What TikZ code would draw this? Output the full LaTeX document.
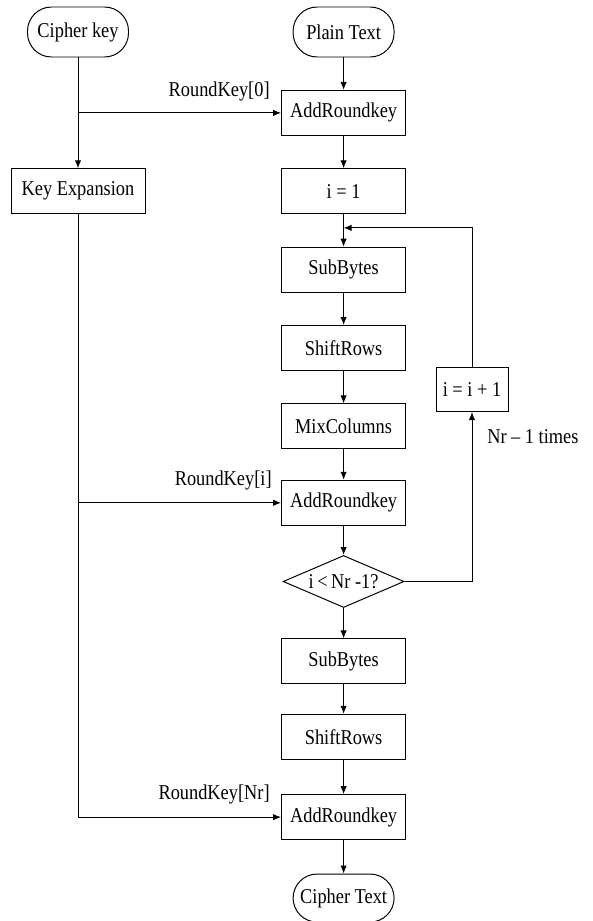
\documentclass[tikz,border=0pt]{standalone}
\usepackage{fontspec}
\setmainfont[FakeStretch=0.87]{Liberation Serif}
\usepackage{tikz}
\usetikzlibrary{arrows.meta,positioning,calc,shapes.geometric}
\tikzset{
  stepbox/.style={rectangle, draw=black, line width=0.7pt, fill=white,
                  minimum width=3.1cm, minimum height=1.125cm, inner sep=2pt,
                  font=\fontsize{15}{17}\selectfont},
  term/.style={rectangle, rounded corners=0.6cm, draw=black, line width=0.7pt,
               minimum width=2.525cm, minimum height=1.25cm, inner sep=2pt,
               font=\fontsize{15}{17}\selectfont},
  decide/.style={diamond, draw=black, line width=0.7pt, inner sep=0pt,
                 minimum width=3.025cm, minimum height=1.3cm,
                 font=\fontsize{15}{17}\selectfont},
  lbl/.style={inner sep=0pt, font=\fontsize{15}{17}\selectfont},
  arr/.style={-{Latex[length=2mm,width=1.6mm]}, line width=0.7pt, draw=black},
}
\begin{document}
\begin{tikzpicture}[node distance=0.81cm]
    \useasboundingbox (0,0) rectangle (14.8,-23.025);
    % left column
    \node[term] (ck) at (1.95,-0.8) {Cipher key};
    % main column
    \node[term] (pt) at (8.59,-0.8) {Plain Text};
    \node[stepbox, below=of pt] (a1) {AddRoundkey};
    \node[stepbox, below=of a1] (i1) {i = 1};
    \node[stepbox, below=of i1] (sb1) {SubBytes};
    \node[stepbox, below=of sb1] (sr1) {ShiftRows};
    \node[stepbox, below=of sr1] (mc) {MixColumns};
    \node[stepbox, below=0.76cm of mc] (a2) {AddRoundkey};
    \node[decide, below=0.73cm of a2] (d1) {\makebox[0pt]{i\,<\,Nr -1?}};
    \node[stepbox, below=0.76cm of d1] (sb2) {SubBytes};
    \node[stepbox, below=0.735cm of sb2] (sr2) {ShiftRows};
    \node[stepbox, below=0.86cm of sr2] (a3) {AddRoundkey};
    \node[term, below=0.835cm of a3, minimum height=1.2cm] (ct) {Cipher Text};
    \node[stepbox, minimum width=3.35cm] (ke) at (ck |- i1) {Key Expansion};
    % loop
    \node[stepbox, minimum width=1.8cm, minimum height=1.1cm] (inc)
      at ($(sr1)!0.53!(mc)+(3.21,0)$) {i = i + 1};
    \node[lbl, anchor=west] (nt) at ($(inc.south)+(0.375,-0.625)$) {Nr -- 1 times};
    % round keys
    \node[lbl, anchor=south east] (k0) at ($(a1.west)+(-0.28,0.3)$) {RoundKey[0]};
    \node[lbl, anchor=south east] (ki) at ($(a2.west)+(-0.23,0.3)$) {RoundKey[i]};
    \node[lbl, anchor=south east] (kn) at ($(a3.west)+(-0.28,0.32)$) {RoundKey[Nr]};
    \coordinate (b0) at (ck |- a1);
    \coordinate (b1) at (ke |- a2);
    \coordinate (jn) at ($(i1.south)!0.42!(sb1.north)$);
    % arrows
    \draw[arr] (ck) -- (ke);
    \draw[arr] (b0) -- (a1.west);
    \draw[arr] (b1) -- (a2.west);
    \draw[arr] (ke.south) |- (a3.west);
    \draw[arr] (pt) -- (a1); \draw[arr] (a1) -- (i1); \draw[arr] (i1) -- (sb1);
    \draw[arr] (sb1) -- (sr1); \draw[arr] (sr1) -- (mc); \draw[arr] (mc) -- (a2);
    \draw[arr] (a2) -- (d1); \draw[arr] (d1) -- (sb2); \draw[arr] (sb2) -- (sr2);
    \draw[arr] (sr2) -- (a3); \draw[arr] (a3) -- (ct);
    \draw[arr] (d1.east) -| (inc.south);
    \draw[arr] (inc.north) |- (jn);
  \end{tikzpicture}
\end{document}
